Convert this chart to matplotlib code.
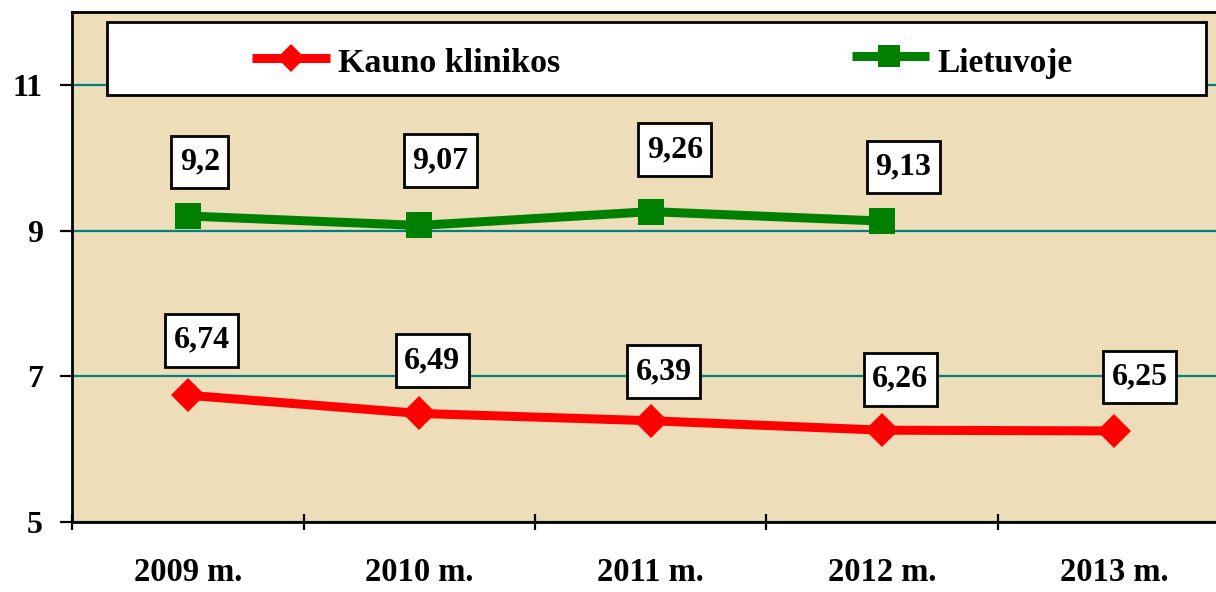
import matplotlib
matplotlib.use("Agg")
import matplotlib.pyplot as plt
import numpy as np
from matplotlib.lines import Line2D
from matplotlib.patches import Rectangle
from matplotlib.path import Path

# ---------------- data ----------------
categories = ["2009 m.", "2010 m.", "2011 m.", "2012 m.", "2013 m."]
kauno = [6.74, 6.49, 6.39, 6.26, 6.25]
lietuvoje = [9.2, 9.07, 9.26, 9.13, np.nan]
kauno_labels = ["6,74", "6,49", "6,39", "6,26", "6,25"]
lietuvoje_labels = ["9,2", "9,07", "9,26", "9,13", ""]
y_ticks = [5, 7, 9, 11]
series_names = ["Kauno klinikos", "Lietuvoje"]

# label offsets (pixels, right / up) of the value boxes
kauno_offsets = [(14, 55), (13, 53), (13, 49), (18, 51), (26, 54)]
lietuvoje_offsets = [(12, 54), (21, 65), (24, 62), (21, 54), (0, 0)]

FONT = "Liberation Serif"
RED = "#FF0000"
GREEN = "#008000"
TEAL = "#008080"
BG = "#EDDDB8"

W, H = 1216, 592
fig = plt.figure(figsize=(W / 100, H / 100), dpi=100)
fig.patch.set_facecolor("white")
ax = fig.add_axes([72 / W, (H - 522) / H, 1157.5 / W, 510 / H])
ax.set_facecolor(BG)

x = np.arange(len(categories))
ax.set_xlim(-0.5, len(categories) - 0.5)
ax.set_ylim(5, 12)

# grid
ax.set_yticks(y_ticks)
ax.yaxis.grid(True, color=TEAL, linewidth=1.6, zorder=1)
ax.set_axisbelow(True)

# series
ax.plot(x, kauno, color=RED, linewidth=6.5, marker="D", markersize=17,
        markeredgewidth=0, zorder=3, solid_capstyle="butt")
ax.plot(x, lietuvoje, color=GREEN, linewidth=6.5, marker="s", markersize=19,
        markeredgewidth=0, zorder=3, solid_capstyle="butt")


def label_box(x0, y0, width, height, mutation_size):
    padx = 0.27 * mutation_size
    pady = 0.37 * mutation_size
    x1, y1 = x0 - padx, y0 - pady
    x2, y2 = x0 + width + padx, y0 + height + pady
    return Path([(x1, y1), (x2, y1), (x2, y2), (x1, y2), (x1, y1)], closed=True)


box = dict(boxstyle=label_box, facecolor="white", edgecolor="black", linewidth=2)
for xi, v, lab, off in zip(x, kauno, kauno_labels, kauno_offsets):
    ax.annotate(lab, (xi, v), xytext=off, textcoords="offset pixels",
                ha="center", va="center", fontsize=23, fontweight="bold",
                family=FONT, bbox=box, zorder=5)
for xi, v, lab, off in zip(x, lietuvoje, lietuvoje_labels, lietuvoje_offsets):
    if np.isnan(v):
        continue
    ax.annotate(lab, (xi, v), xytext=off, textcoords="offset pixels",
                ha="center", va="center", fontsize=23, fontweight="bold",
                family=FONT, bbox=box, zorder=5)

# spines
for s in ax.spines.values():
    s.set_color("black")
    s.set_linewidth(2)

# y ticks
ax.set_yticklabels([str(t) for t in y_ticks], fontsize=23, fontweight="bold",
                   family=FONT)
ax.tick_params(axis="y", length=9, width=1.6, pad=12, direction="out")

# x ticks
ax.set_xticks(x)
ax.set_xticklabels(categories, fontsize=23.5, fontweight="bold", family=FONT)
ax.set_xticks(np.arange(-0.5, len(categories), 1.0), minor=True)
ax.tick_params(axis="x", which="major", length=0, pad=25)
ax.tick_params(axis="x", which="minor", length=12, width=1.6, direction="inout")

# ---------------- legend (drawn in figure pixels) ----------------
def fx(px):
    return px / W

def fy(py):
    return 1 - py / H

fig.add_artist(Rectangle((fx(107), fy(95)), fx(1206) - fx(107), fy(22) - fy(95),
                         transform=fig.transFigure, facecolor="white",
                         edgecolor="black", linewidth=2, zorder=10))
fig.add_artist(Line2D([fx(252), fx(330)], [fy(58), fy(58)], transform=fig.transFigure,
                      color=RED, linewidth=6.5, zorder=11, solid_capstyle="butt"))
fig.add_artist(Line2D([fx(291)], [fy(58)], transform=fig.transFigure, color=RED,
                      marker="D", markersize=14, markeredgewidth=0, zorder=12))
fig.text(fx(338), fy(72), series_names[0], fontsize=24.5, fontweight="bold",
         family=FONT, va="baseline", ha="left", zorder=12)
fig.add_artist(Line2D([fx(852), fx(929)], [fy(56), fy(56)], transform=fig.transFigure,
                      color=GREEN, linewidth=6.5, zorder=11, solid_capstyle="butt"))
fig.add_artist(Line2D([fx(889)], [fy(56)], transform=fig.transFigure, color=GREEN,
                      marker="s", markersize=16, markeredgewidth=0, zorder=12))
fig.text(fx(937), fy(72), series_names[1], fontsize=24, fontweight="bold",
         family=FONT, va="baseline", ha="left", zorder=12)

fig.savefig("out.png", dpi=100)
